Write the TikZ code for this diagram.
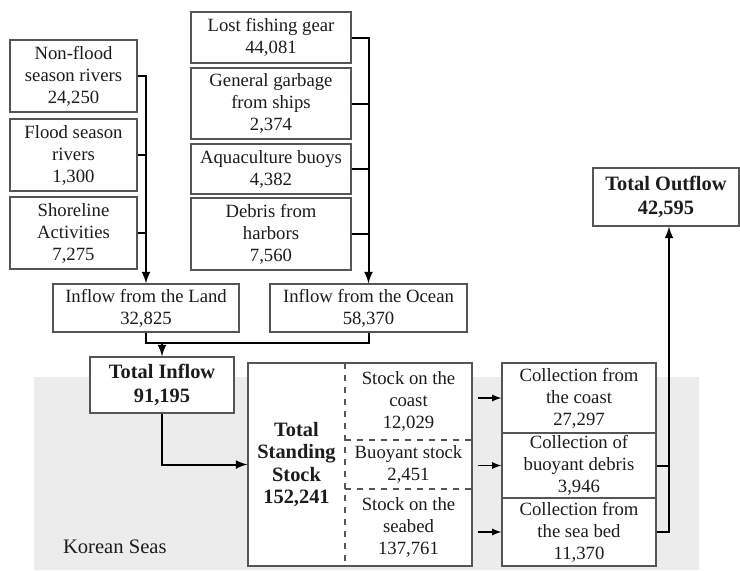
\documentclass[tikz,border=0pt]{standalone}
\usepackage{fontspec}
\setmainfont{Liberation Serif}
\definecolor{seaGray}{RGB}{236,236,236}
\definecolor{boxGray}{RGB}{85,85,85}
\definecolor{inkBlack}{RGB}{28,28,28}

\begin{document}
\begin{tikzpicture}[x=0.5pt, y=-0.5pt,
	box/.style={draw=boxGray, line width=0.6pt, fill=white, align=center, inner sep=0pt, text=inkBlack, font=\fontsize{9.35}{11}\selectfont},
	totalbox/.style={box, font=\fontsize{10.2}{12}\selectfont\bfseries},
	part/.style={align=center, inner sep=0pt, text=inkBlack, font=\fontsize{9.35}{11}\selectfont},
	flow/.style={line width=1pt, -latex},
	joinline/.style={line width=1pt},
	feed/.style={line width=0.6pt, -latex, shorten <=2.5pt},
	divider/.style={draw=boxGray, line width=0.6pt, dashed}]

% Frame and sea area.

	\useasboundingbox (0,0) rectangle (740,570);
	\fill [seaGray] (34,377) rectangle (699,570);
	\node [anchor=west, text=inkBlack, font=\fontsize{10.3}{12}\selectfont] (seas) at (56,547) {Korean Seas};

% Sources.

	%land
	\node [box, minimum width=63.5pt, minimum height=36pt] (nonflood) at (73.5,76) {Non-flood\\season rivers\\24,250};
	\node [box, minimum width=63.5pt, minimum height=36pt] (flood) at (73.5,155) {Flood season\\rivers\\1,300};
	\node [box, minimum width=63.5pt, minimum height=36pt] (shore) at (73.5,233) {Shoreline\\Activities\\7,275};

	%ocean
	\node [box, minimum width=80pt, minimum height=25.5pt] (lost) at (271,37.5) {Lost fishing gear\\44,081};
	\node [box, minimum width=80pt, minimum height=35.5pt] (garbage) at (271,103.5) {General garbage\\from ships\\2,374};
	\node [box, minimum width=80pt, minimum height=25pt] (aqua) at (271,169) {Aquaculture buoys\\4,382};
	\node [box, minimum width=80pt, minimum height=36pt] (harbor) at (271,234) {Debris from\\harbors\\7,560};

% Inflows.

	\node [box, minimum width=93pt, minimum height=24pt] (land) at (146,308) {Inflow from the Land\\32,825};
	\node [box, minimum width=98.5pt, minimum height=24pt] (ocean) at (368.5,308) {Inflow from the Ocean\\58,370};
	\node [totalbox, minimum width=72pt, minimum height=28pt] (totin) at (162,385) {Total Inflow\\91,195};
	\coordinate (merge) at (162,343);

% Standing stock.

	\node [box, minimum width=112pt, minimum height=101.5pt] (stock) at (360,464.5) {};
	\node [part, font=\fontsize{10.2}{11.3}\selectfont\bfseries] (totstock) at (296.5,464.5) {Total\\Standing\\Stock\\152,241};
	\node [part, minimum width=63.5pt, minimum height=38.5pt] (coast) at (408.5,401.5) {Stock on the\\coast\\12,029};
	\node [part, minimum width=63.5pt, minimum height=24.5pt] (buoy) at (408.5,464.5) {Buoyant stock\\2,451};
	\node [part, minimum width=63.5pt, minimum height=38.5pt] (bed) at (408.5,527.5) {Stock on the\\seabed\\137,761};

	\draw [divider] (345,363) -- (345,566);
	\draw [divider] (345,440) -- (472,440);
	\draw [divider] (345,489) -- (472,489);

% Collection and outflow.

	\node [box, minimum width=77pt, minimum height=35pt] (collcoast) at (579,398) {Collection from\\the coast\\27,297};
	\node [box, minimum width=77pt, minimum height=32.5pt] (collbuoy) at (579,465.5) {Collection of\\buoyant debris\\3,946};
	\node [box, minimum width=77pt, minimum height=34pt] (collbed) at (579,532) {Collection from\\the sea bed\\11,370};
	\node [totalbox, minimum width=73pt, minimum height=29pt] (totout) at (666,197) {Total Outflow\\42,595};
	\coordinate (outLine) at ([xshift=1.5pt]totout.south);

% Draw connectors.

	\draw [flow] (nonflood.east) -| (land.north);
	\draw [joinline] (flood.east) -- (flood.east -| land.north);
	\draw [joinline] (shore.east) -- (shore.east -| land.north);

	\draw [flow] (lost.east) -| (ocean.north);
	\draw [joinline] (garbage.east) -- (garbage.east -| ocean.north);
	\draw [joinline] (aqua.east) -- (aqua.east -| ocean.north);
	\draw [joinline] (harbor.east) -- (harbor.east -| ocean.north);

	\draw [joinline] (land.south) |- (merge) -| (ocean.south);
	\draw [flow] (merge) -- (totin.north);
	\draw [flow] (totin.south) |- (stock.west);

	\draw [feed] (collcoast.west -| stock.east) -- (collcoast.west);
	\draw [feed] (collbuoy.west -| stock.east) -- (collbuoy.west);
	\draw [feed] (collbed.west -| stock.east) -- (collbed.west);

	\draw [flow] (collbed.east) -| (outLine);
	\draw [joinline] (collbuoy.east) -- (collbuoy.east -| outLine);

\end{tikzpicture}
\end{document}
